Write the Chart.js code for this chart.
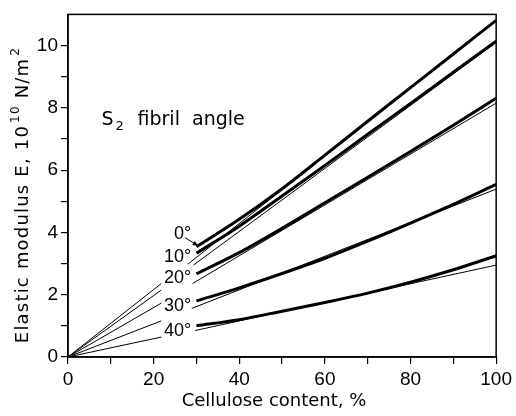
<!DOCTYPE html>
<html>
<head>
<meta charset="utf-8">
<script src="https://cdn.jsdelivr.net/npm/chart.js@4.4.1/dist/chart.umd.min.js"></script>
<style>
  html, body { margin: 0; padding: 0; background: #fff; }
  #wrap { width: 516px; height: 416px; }
</style>
</head>
<body>
<div id="wrap"><canvas id="chart" width="516" height="416"></canvas></div>
<script>
// cellulose content (%) where the thick curves are read
const cellulose = [30, 40, 50, 60, 70, 80, 90, 100];
const modulus0 = [3.54, 4.42, 5.4, 6.48, 7.57, 8.65, 9.73, 10.81];
const modulus10 = [3.33, 4.2, 5.17, 6.15, 7.15, 8.14, 9.14, 10.14];
const modulus20 = [2.67, 3.35, 4.13, 4.95, 5.77, 6.6, 7.44, 8.31];
const modulus30 = [1.8, 2.22, 2.68, 3.17, 3.72, 4.3, 4.9, 5.54];
const modulus40 = [1.0, 1.2, 1.47, 1.75, 2.05, 2.4, 2.8, 3.25];

// thin straight lines from the origin, broken where the labels sit
const refX0 = [0, 21.8, 25, 28.0, 100];
const ref0 = [0, 2.36, null, 2.98, 10.81];
const refX10 = [0, 21.8, 25, 29.3, 100];
const ref10 = [0, 2.15, null, 2.95, 10.1];
const refX20 = [0, 21.8, 25, 29.1, 100];
const ref20 = [0, 1.73, null, 2.36, 8.15];
const refX30 = [0, 21.8, 25, 28.9, 100];
const ref30 = [0, 1.16, null, 1.56, 5.39];
const refX40 = [0, 21.8, 25, 29.7, 100];
const ref40 = [0, 0.64, null, 0.85, 2.95];

const angleLabels = ['0°', '10°', '20°', '30°', '40°'];
const xTickLabels = [0, 20, 40, 60, 80, 100];
const yTickLabels = [0, 2, 4, 6, 8, 10];

const pairs = (xs, ys) => xs.map((v, i) => ({ x: v, y: ys[i] }));

const thick = (ys) => ({
  data: pairs(cellulose, ys),
  borderColor: '#000',
  borderWidth: 3,
  pointRadius: 0,
  cubicInterpolationMode: 'monotone',
  fill: false
});

const thin = (xs, ys) => ({
  data: pairs(xs, ys),
  borderColor: '#000',
  borderWidth: 1,
  pointRadius: 0,
  tension: 0,
  spanGaps: false,
  fill: false
});

const annotations = {
  id: 'annotations',
  afterDraw(chart) {
    const { ctx, chartArea: a, scales: { x, y } } = chart;
    ctx.save();
    ctx.strokeStyle = '#000';
    ctx.lineWidth = 1.5;
    ctx.strokeRect(a.left, a.top, a.right - a.left, a.bottom - a.top);

    ctx.fillStyle = '#000';
    ctx.font = '18px "Liberation Sans"';
    ctx.textAlign = 'right';
    ctx.textBaseline = 'middle';
    const labelY = [3.96, 3.21, 2.53, 1.65, 0.82];
    angleLabels.forEach((t, i) => {
      ctx.fillText(t, x.getPixelForValue(28.8), y.getPixelForValue(labelY[i]));
    });

    // arrow from the 0° label to its curve
    const x1 = x.getPixelForValue(27.35), y1 = y.getPixelForValue(3.83);
    const x2 = x.getPixelForValue(30.4), y2 = y.getPixelForValue(3.57);
    ctx.lineWidth = 1;
    ctx.beginPath();
    ctx.moveTo(x1, y1);
    ctx.lineTo(x2, y2);
    ctx.stroke();
    const ang = Math.atan2(y2 - y1, x2 - x1);
    ctx.beginPath();
    ctx.moveTo(x2, y2);
    ctx.lineTo(x2 - 6 * Math.cos(ang - 0.4), y2 - 6 * Math.sin(ang - 0.4));
    ctx.lineTo(x2 - 6 * Math.cos(ang + 0.4), y2 - 6 * Math.sin(ang + 0.4));
    ctx.closePath();
    ctx.fill();

    // S2 fibril angle
    ctx.textAlign = 'left';
    ctx.textBaseline = 'alphabetic';
    const sx = x.getPixelForValue(7.83), sy = y.getPixelForValue(7.45);
    ctx.font = '19px "DejaVu Sans"';
    ctx.fillText('S', sx, sy);
    const sw = ctx.measureText('S').width;
    ctx.font = '13px "DejaVu Sans"';
    ctx.fillText('2', sx + sw + 2, sy + 5);
    ctx.font = '19px "DejaVu Sans"';
    ctx.fillText('fibril  angle', sx + 36, sy);

    // x axis title
    ctx.font = '18px "DejaVu Sans"';
    ctx.textAlign = 'center';
    ctx.fillText('Cellulose content, %', 274, 406);

    // y axis title with superscripts
    ctx.letterSpacing = '1.2px';
    const parts = [
      ['Elastic modulus E, 10', 18, 0],
      ['10', 12, -9],
      [' N/m', 18, 0],
      ['2', 12, -9]
    ];
    let total = 0;
    parts.forEach(p => {
      ctx.font = p[1] + 'px "DejaVu Sans"';
      p.push(ctx.measureText(p[0]).width);
      total += p[3] + (p[1] === 12 ? 2 : 0);
    });
    ctx.translate(28, 195);
    ctx.rotate(-Math.PI / 2);
    ctx.textAlign = 'left';
    let cx = -total / 2;
    parts.forEach(p => {
      ctx.font = p[1] + 'px "DejaVu Sans"';
      if (p[1] === 12) cx += 2;
      ctx.fillText(p[0], cx, p[2]);
      cx += p[3];
    });
    ctx.restore();
  }
};

new Chart(document.getElementById('chart'), {
  type: 'line',
  data: {
    datasets: [
      thick(modulus0), thick(modulus10), thick(modulus20), thick(modulus30), thick(modulus40),
      thin(refX0, ref0), thin(refX10, ref10), thin(refX20, ref20), thin(refX30, ref30), thin(refX40, ref40)
    ]
  },
  options: {
    responsive: false,
    animation: false,
    devicePixelRatio: 1,
    layout: { padding: { top: 7, right: 14, left: 0, bottom: 0 } },
    plugins: { legend: { display: false }, tooltip: { enabled: false } },
    scales: {
      x: {
        type: 'linear',
        min: 0,
        max: 100,
        afterFit: (s) => { s.height = 59; },
        ticks: {
          stepSize: 10,
          autoSkip: false,
          maxRotation: 0,
          padding: 4,
          color: '#000',
          font: { family: 'Liberation Sans', size: 19 },
          callback: (v) => xTickLabels.includes(v) ? String(v) : ''
        },
        grid: { drawOnChartArea: false, drawTicks: true, tickLength: 7, color: '#000', lineWidth: 1.2 },
        border: { color: '#000', width: 1.5 }
      },
      y: {
        min: 0,
        max: 11,
        afterFit: (s) => { s.width = 68; },
        ticks: {
          stepSize: 1,
          autoSkip: false,
          padding: 3,
          color: '#000',
          font: { family: 'Liberation Sans', size: 19 },
          callback: (v) => yTickLabels.includes(v) ? String(v) : ''
        },
        grid: {
          drawOnChartArea: false,
          drawTicks: true,
          tickLength: 7,
          color: (c) => (c.tick && c.tick.value === 11) ? 'rgba(0,0,0,0)' : '#000',
          lineWidth: 1.2
        },
        border: { color: '#000', width: 1.5 }
      }
    }
  },
  plugins: [annotations]
});
</script>
</body>
</html>
